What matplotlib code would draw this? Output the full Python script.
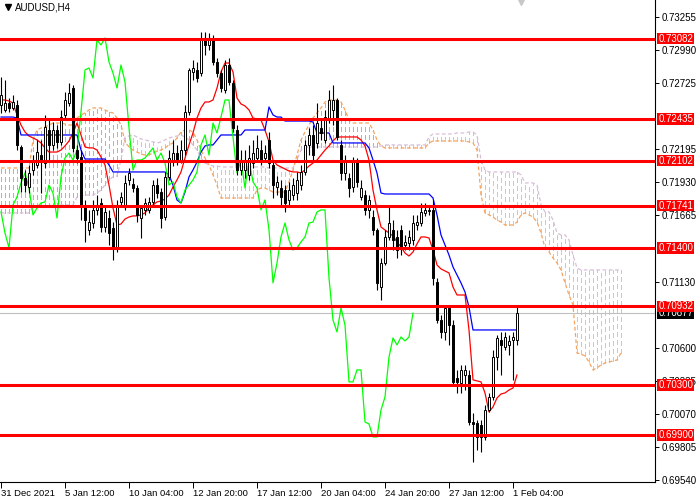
import matplotlib
matplotlib.use('Agg')
import matplotlib.pyplot as plt
import matplotlib.transforms as mtransforms
from matplotlib.lines import Line2D
import numpy as np

plt.rcParams['font.family'] = ['Liberation Sans', 'DejaVu Sans']

symbol = 'AUDUSD,H4'
date_labels = ['31 Dec 2021', '5 Jan 12:00', '10 Jan 04:00', '12 Jan 20:00', '17 Jan 12:00',
               '20 Jan 04:00', '24 Jan 20:00', '27 Jan 12:00', '1 Feb 04:00']
date_label_bars = [0, 16, 32, 48, 64, 80, 96, 112, 128]
levels = [0.73082, 0.72435, 0.72102, 0.71741, 0.71400, 0.70932, 0.70300, 0.69900]
price_ticks = [0.73255, 0.72990, 0.72725, 0.72195, 0.71930, 0.71665, 0.71130,
               0.70600, 0.70335, 0.70070, 0.69805, 0.69540]
last_price = 0.70877

# prices in points (1e-5)
opens = [72549, 72509, 72565, 72525, 72549, 72212, 71963, 71890, 72027, 72067,
         72147, 72083, 72348, 72228, 72348, 72252, 72469, 72565, 72685, 72187,
         72131, 71746, 71545, 71601, 71706, 71762, 71569, 71641, 71561, 71401,
         71770, 71730, 71947, 71914, 71882, 71641, 71706, 71706, 71770, 71906,
         71850, 71649, 71971, 72091, 72163, 72107, 72187, 72493, 72814, 72830,
         72806, 73087, 73031, 73087, 72894, 72806, 72669, 72870, 72726, 72348,
         72027, 72027, 71987, 72083, 72123, 72187, 72123, 72268, 72067, 71890,
         71882, 71866, 71786, 71826, 71842, 71906, 72011, 72228, 72308, 72244,
         72364, 72268, 72428, 72509, 72589, 72228, 72003, 71963, 71890, 72107,
         71810, 71826, 71706, 71649, 71545, 71087, 71280, 71489, 71545, 71489,
         71545, 71425, 71441, 71465, 71585, 71601, 71682, 71698, 71706, 71128,
         70822, 70726, 70919, 70782, 70357, 70317, 70381, 70381, 70003, 69995,
         69979, 69883, 70100, 70204, 70525, 70662, 70606, 70622, 70662, 70662]
highs = [72774, 72750, 72605, 72629, 72589, 72228, 72027, 72067, 72147, 72268,
         72268, 72469, 72428, 72412, 72388, 72509, 72653, 72726, 72709, 72228,
         72187, 71786, 71706, 71786, 71826, 71802, 71746, 71706, 71609, 71786,
         71850, 71987, 72043, 71963, 71906, 71746, 71802, 71810, 71947, 71963,
         71882, 72011, 72187, 72268, 72228, 72268, 72549, 72846, 72910, 72894,
         73135, 73135, 73127, 73111, 72926, 72830, 72910, 72926, 72750, 72388,
         72187, 72187, 72228, 72268, 72308, 72268, 72228, 72332, 72107, 71979,
         71947, 71906, 71931, 71963, 72011, 72067, 72268, 72364, 72388, 72565,
         72444, 72509, 72669, 72709, 72605, 72268, 72147, 72003, 72131, 72123,
         71947, 71866, 71826, 71706, 71561, 71320, 71545, 71746, 71625, 71545,
         71585, 71505, 71545, 71666, 71666, 71762, 71762, 71746, 71786, 71160,
         70863, 70943, 70943, 70822, 70421, 70461, 70461, 70421, 70076, 70019,
         70019, 70140, 70236, 70581, 70702, 70726, 70726, 70702, 70726, 70927]
lows = [72485, 72493, 72493, 72509, 72187, 71850, 71850, 71842, 71987, 72043,
        71842, 72043, 72107, 72187, 72204, 72228, 72444, 72541, 72171, 72083,
        71625, 71449, 71505, 71561, 71666, 71529, 71529, 71425, 71304, 71368,
        71738, 71706, 71906, 71850, 71609, 71481, 71666, 71682, 71746, 71802,
        71561, 71625, 71947, 72059, 72067, 72083, 72147, 72469, 72750, 72734,
        72782, 72950, 72990, 72870, 72774, 72653, 72645, 72709, 72332, 71987,
        71987, 71963, 71947, 72043, 72091, 72067, 72091, 72043, 71802, 71826,
        71746, 71690, 71746, 71786, 71786, 71866, 71987, 72147, 72107, 72204,
        72268, 72244, 72404, 72388, 72268, 71947, 71947, 71810, 71850, 71890,
        71786, 71666, 71641, 71505, 71063, 70983, 71264, 71465, 71384, 71320,
        71344, 71384, 71384, 71425, 71545, 71577, 71658, 71666, 71103, 70798,
        70678, 70662, 70622, 70300, 70236, 70236, 70260, 69979, 69682, 69778,
        69762, 69859, 70084, 70180, 70421, 70381, 70581, 70541, 70341, 70622]
closes = [72629, 72565, 72525, 72573, 72228, 71963, 71906, 72003, 72107, 72171,
          72107, 72372, 72228, 72348, 72252, 72452, 72589, 72645, 72204, 72123,
          71746, 71625, 71609, 71706, 71746, 71569, 71690, 71521, 71401, 71746,
          71810, 71923, 72003, 71882, 71666, 71722, 71762, 71770, 71906, 71842,
          71641, 71971, 72123, 72163, 72107, 72187, 72493, 72830, 72846, 72766,
          73071, 73031, 73087, 72894, 72806, 72685, 72870, 72734, 72364, 72027,
          72107, 72107, 72123, 72163, 72204, 72107, 72163, 72083, 71906, 71931,
          71810, 71762, 71866, 71906, 71947, 72011, 72228, 72308, 72147, 72404,
          72324, 72452, 72589, 72589, 72292, 72003, 72107, 71882, 72107, 71931,
          71882, 71706, 71786, 71545, 71120, 71280, 71489, 71601, 71465, 71384,
          71401, 71449, 71489, 71601, 71609, 71690, 71706, 71706, 71160, 70822,
          70726, 70919, 70782, 70325, 70325, 70421, 70421, 70003, 69987, 69883,
          69883, 70100, 70204, 70525, 70678, 70622, 70686, 70654, 70686, 70877]

tenkan = [72589, 72589, 72581, 72565, 72469, 72388, 72332, 72300, 72284, 72268,
          72244, 72204, 72171, 72171, 72171, 72187, 72220, 72260, 72324, 72404,
          72308, 72212, 72204, 72204, 72187, 72131, 72067, 71906, 71722, 71585,
          71593, 71633, 71649, 71658, 71658, 71666, 71682, 71722, 71746, 71770,
          71778, 71794, 71826, 71890, 71947, 72011, 72123, 72228, 72324, 72444,
          72525, 72573, 72573, 72589, 72685, 72814, 72886, 72886, 72814, 72605,
          72557, 72541, 72509, 72444, 72436, 72428, 72348, 72252, 72107, 72067,
          72051, 72035, 72019, 72011, 72011, 72003, 72027, 72059, 72083, 72107,
          72147, 72187, 72220, 72260, 72292, 72292, 72292, 72292, 72292, 72292,
          72268, 72220, 72107, 71866, 71706, 71569, 71545, 71521, 71497, 71449,
          71409, 71360, 71336, 71368, 71433, 71489, 71489, 71481, 71384, 71264,
          71232, 71216, 71200, 71087, 71023, 71023, 71023, 70742, 70341, 70333,
          70325, 70236, 70084, 70124, 70196, 70228, 70236, 70260, 70276, 70381]
kijun = ([72452] * 4 + [72444] + [72308] * 15 + [72187] + [72115] * 6 + [72067]
         + [72011] * 14
         + [71987, 71906, 71786, 71762, 71850, 71971, 72027, 72091, 72171, 72220, 72228, 72228, 72268]
         + [72308] * 6 + [72348] * 6 + [72533, 72469, 72452, 72452] + [72420] * 7 + [72412]
         + [72324] * 4 + [72244] * 9 + [72204, 72107, 72003, 71842] + [71834] * 12
         + [71802, 71666, 71505, 71425, 71344, 71248, 71184, 71120, 71047, 70927]
         + [70742] * 12)
span_a = ([72043] * 8
          + [72268, 72348, 72364, 72372, 72388, 72404, 72404, 72404, 72396, 72388,
             72388, 72444, 72469, 72485, 72509, 72525, 72525, 72525, 72509, 72493,
             72485, 72444, 72388, 72252, 72212, 72187, 72171, 72155, 72147, 72147,
             72163, 72179, 72187, 72204, 72228, 72244, 72284, 72332, 72348, 72348,
             72332, 72268, 72187, 72123, 72067, 71987, 71906]
          + [71802] * 9 + [71866, 71882, 71882, 71866] + [71850] * 4
          + [71931, 72027, 72147, 72268, 72332, 72388, 72444, 72485, 72525, 72573,
             72589, 72589, 72589, 72573, 72509, 72428]
          + [72404] * 5 + [72348, 72268, 72220] + [72204] * 11 + [72244] + [72260] * 9
          + [72252, 72244, 72187, 71826, 71682, 71666, 71649, 71625, 71609, 71585,
             71585, 71585, 71609, 71666, 71682, 71666, 71649, 71609, 71521, 71401,
             71368, 71320, 71280, 71224, 71120, 71023, 70943, 70557, 70549, 70533,
             70485, 70421, 70437, 70461, 70477, 70485, 70493, 70501, 70557])
span_b = ([71682] * 8 + [71730] * 7 + [71746] * 4
          + [71810, 71818, 71826, 71826, 71826, 71842, 71866, 71906, 71947, 71971,
             71979, 72107, 72292, 72300, 72308, 72292, 72276, 72268, 72260, 72252,
             72244, 72252, 72268, 72284, 72292, 72300, 72308, 72292, 72268, 72228,
             72187, 72123, 72083, 72067, 72059, 72059]
          + [72051] * 12 + [72043] * 7 + [72107, 72187, 72204] + [72212] * 18 + [72220]
          + [72228] * 11 + [72292] + [72316] * 6 + [72324] * 3
          + [72332, 72332, 72308, 72107, 72027] + [72011] * 8 + [71987] + [71923] * 3
          + [71906, 71746, 71690, 71690, 71625, 71521, 71505, 71505, 71465, 71344, 71240]
          + [71224] * 11)

opens = np.array(opens) / 1e5
highs = np.array(highs) / 1e5
lows = np.array(lows) / 1e5
closes = np.array(closes) / 1e5
tenkan = np.array(tenkan) / 1e5
kijun = np.array(kijun) / 1e5
span_a = np.array(span_a) / 1e5
span_b = np.array(span_b) / 1e5
shift = 26

fig = plt.figure(figsize=(7, 5), dpi=100)
ax = fig.add_axes([0, 18 / 500, 655 / 700, 482 / 500])
ax.set_xlim(-0.25, 163.5)
ax.set_ylim(0.69521, 0.73392)

# облако
cidx = np.arange(len(span_a))
bull = span_a >= span_b
ax.vlines(cidx[bull], span_b[bull], span_a[bull], colors='#F4A460', linestyles=(0, (3, 2.5)),
          linewidth=1.0, zorder=1, antialiased=False)
ax.vlines(cidx[~bull], span_a[~bull], span_b[~bull], colors='#D8BFD8', linestyles=(0, (3, 2.5)),
          linewidth=1.0, zorder=1, antialiased=False)
ax.plot(cidx, span_a, color='#F4A460', lw=0.9, ls=(0, (3, 2)), zorder=1.2)
ax.plot(cidx, span_b, color='#D8BFD8', lw=0.9, ls=(0, (3, 2)), zorder=1.2)

ax.axhline(last_price, color='#C0C0C0', lw=0.8, zorder=1.5)

idx = np.arange(len(closes))
ax.plot(idx, tenkan, color='red', lw=0.9, zorder=2.6)
ax.plot(idx, kijun, color='blue', lw=0.9, zorder=2.6)
ax.plot(idx[:-shift], closes[shift:], color='#00FF00', lw=0.9, zorder=2.6)

# свечи
up = closes >= opens
ax.vlines(idx, lows, highs, color='black', lw=0.8, zorder=3)
body_h = np.maximum(np.abs(closes - opens), 0.00002)
ax.bar(idx, body_h, bottom=np.minimum(opens, closes), width=0.6,
       color=np.where(up, 'white', 'black'), edgecolor='black', linewidth=0.7, zorder=4)

# уровни
trans = mtransforms.blended_transform_factory(ax.transAxes, ax.transData)
ax.text(1.005, last_price, f'{last_price:.5f}', transform=trans, ha='left', va='center',
        fontsize=7, color='white', zorder=5.5, clip_on=False,
        bbox=dict(boxstyle='square,pad=0.08', fc='black', ec='none'))
for lv in levels:
    ax.axhline(lv, color='red', lw=2.2, zorder=5)
    ax.text(1.005, lv, f'{lv:.5f}', transform=trans, ha='left', va='center', fontsize=7,
            color='white', zorder=6, clip_on=False,
            bbox=dict(boxstyle='square,pad=0.08', fc='red', ec='none'))

for side in ['top', 'left']:
    ax.spines[side].set_visible(False)
for side in ['right', 'bottom']:
    ax.spines[side].set_linewidth(0.8)

ax.yaxis.tick_right()
ax.set_yticks(price_ticks)
ax.set_yticklabels([f'{v:.5f}' for v in price_ticks])
ax.tick_params(axis='y', length=3, width=0.7, pad=2, labelsize=7)
ax.set_xticks(date_label_bars)
ax.set_xticklabels(date_labels)
ax.tick_params(axis='x', length=4, width=0.7, pad=1, labelsize=6.8)
for lbl in ax.get_xticklabels():
    lbl.set_horizontalalignment('left')

# заголовок
fig.text(15 / 700, 1 - 7 / 500, symbol, fontsize=7, va='center', ha='left')
fig.add_artist(Line2D([8 / 700], [1 - 7 / 500], marker='v', ms=4, color='black',
                      transform=fig.transFigure))
top_trans = mtransforms.blended_transform_factory(ax.transData, ax.transAxes)
ax.plot([len(closes)], [1.0], marker='v', ms=7, color='#C8C8C8', transform=top_trans,
        clip_on=False, zorder=6)

fig.savefig('out.png', dpi=100)
